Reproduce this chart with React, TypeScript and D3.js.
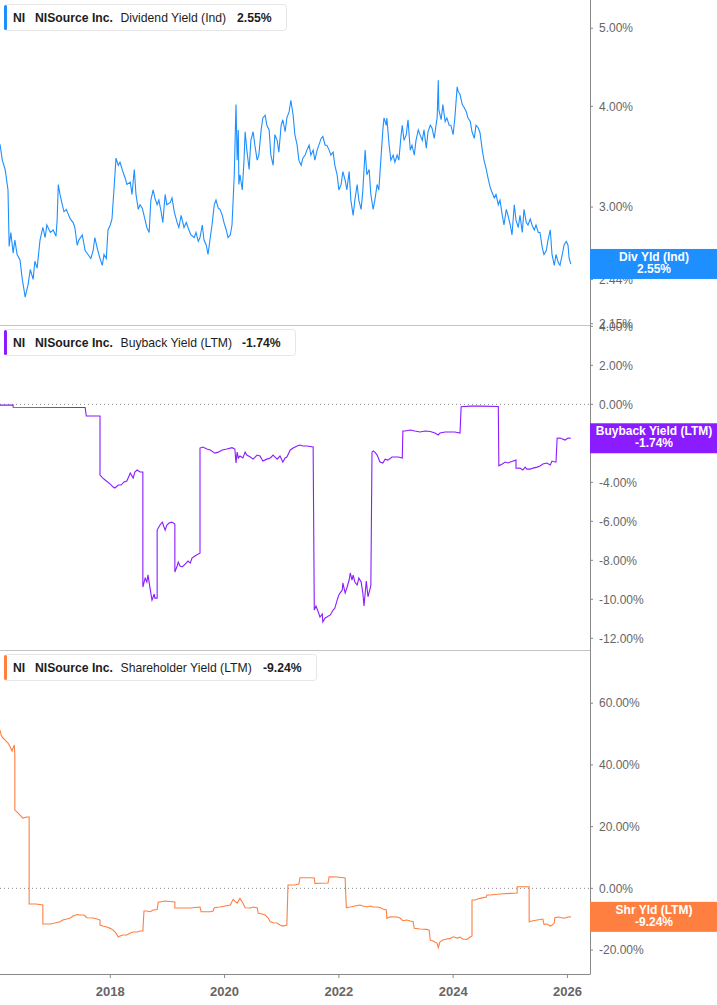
import * as d3 from "d3";

// NiSource (NI) yields. Dates are decimal years.
const divDates = [
  2016.07, 2016.11, 2016.16, 2016.21, 2016.23, 2016.26, 2016.3, 2016.33, 2016.37, 2016.42,
  2016.46, 2016.49, 2016.51, 2016.56, 2016.6, 2016.65, 2016.68, 2016.72, 2016.77, 2016.82,
  2016.86, 2016.89, 2016.95, 2017.0, 2017.05, 2017.07, 2017.09, 2017.12, 2017.16, 2017.19,
  2017.23, 2017.3, 2017.35, 2017.38, 2017.42, 2017.45, 2017.51, 2017.56, 2017.61, 2017.66,
  2017.7, 2017.73, 2017.77, 2017.82, 2017.86, 2017.89, 2017.93, 2017.96, 2018.0, 2018.03,
  2018.07, 2018.1, 2018.14, 2018.17, 2018.22, 2018.26, 2018.29, 2018.35, 2018.38, 2018.42,
  2018.45, 2018.49, 2018.52, 2018.56, 2018.61, 2018.64, 2018.68, 2018.71, 2018.75, 2018.78,
  2018.82, 2018.85, 2018.89, 2018.92, 2018.96, 2018.99, 2019.05, 2019.08, 2019.12, 2019.17,
  2019.2, 2019.24, 2019.29, 2019.33, 2019.36, 2019.41, 2019.47, 2019.5, 2019.54, 2019.57,
  2019.61, 2019.64, 2019.68, 2019.71, 2019.75, 2019.78, 2019.82, 2019.85, 2019.89, 2019.92,
  2019.96, 2019.99, 2020.03, 2020.06, 2020.1, 2020.13, 2020.15, 2020.17, 2020.18, 2020.2,
  2020.22, 2020.24, 2020.25, 2020.27, 2020.31, 2020.34, 2020.36, 2020.39, 2020.43, 2020.46,
  2020.5, 2020.53, 2020.57, 2020.6, 2020.64, 2020.67, 2020.71, 2020.74, 2020.78, 2020.81,
  2020.85, 2020.88, 2020.92, 2020.95, 2020.99, 2021.02, 2021.06, 2021.09, 2021.13, 2021.16,
  2021.2, 2021.23, 2021.27, 2021.3, 2021.34, 2021.37, 2021.41, 2021.44, 2021.48, 2021.51,
  2021.55, 2021.58, 2021.62, 2021.65, 2021.69, 2021.72, 2021.76, 2021.79, 2021.83, 2021.86,
  2021.9, 2021.93, 2021.97, 2022.0, 2022.04, 2022.07, 2022.11, 2022.14, 2022.18, 2022.21,
  2022.25, 2022.28, 2022.32, 2022.35, 2022.39, 2022.42, 2022.46, 2022.49, 2022.53, 2022.56,
  2022.6, 2022.63, 2022.67, 2022.7, 2022.74, 2022.77, 2022.79, 2022.83, 2022.84, 2022.88,
  2022.91, 2022.95, 2022.98, 2023.02, 2023.05, 2023.09, 2023.11, 2023.14, 2023.18, 2023.21,
  2023.25, 2023.28, 2023.32, 2023.35, 2023.39, 2023.42, 2023.46, 2023.49, 2023.53, 2023.56,
  2023.6, 2023.63, 2023.67, 2023.7, 2023.72, 2023.74, 2023.75, 2023.79, 2023.82, 2023.86,
  2023.89, 2023.93, 2023.96, 2024.0, 2024.03, 2024.07, 2024.09, 2024.12, 2024.16, 2024.19,
  2024.23, 2024.26, 2024.3, 2024.33, 2024.37, 2024.4, 2024.44, 2024.47, 2024.51, 2024.54,
  2024.58, 2024.61, 2024.65, 2024.68, 2024.72, 2024.75, 2024.79, 2024.82, 2024.86, 2024.89,
  2024.93, 2024.96, 2025.0, 2025.03, 2025.07, 2025.1, 2025.14, 2025.17, 2025.21, 2025.24,
  2025.28, 2025.31, 2025.35, 2025.38, 2025.42, 2025.45, 2025.49, 2025.52, 2025.56, 2025.59,
  2025.63, 2025.66, 2025.7, 2025.73, 2025.77, 2025.8, 2025.84, 2025.87, 2025.91, 2025.94,
  2025.98, 2026.01, 2026.03, 2026.06,
];

const divValues = [
  3.59, 3.43, 3.34, 3.15, 2.68, 2.79, 2.63, 2.73, 2.62, 2.58,
  2.44, 2.37, 2.32, 2.4, 2.51, 2.44, 2.57, 2.52, 2.73, 2.83,
  2.75, 2.85, 2.79, 2.81, 2.76, 2.89, 3.2, 3.11, 3.02, 2.96,
  2.98, 2.9, 2.87, 2.83, 2.69, 2.73, 2.77, 2.65, 2.62, 2.59,
  2.65, 2.75, 2.67, 2.59, 2.54, 2.62, 2.59, 2.81, 2.85, 2.9,
  3.2, 3.45, 3.38, 3.41, 3.32, 3.26, 3.2, 3.22, 3.11, 3.34,
  3.11, 2.98, 3.02, 2.99, 2.89, 2.83, 2.79, 3.06, 3.15, 3.08,
  3.02, 3.06, 2.96, 2.87, 3.11, 3.02, 3.04, 3.08, 2.96, 2.87,
  2.83, 2.93, 2.83, 2.87, 2.83, 2.77, 2.75, 2.79, 2.72, 2.75,
  2.85, 2.73, 2.69, 2.62, 2.75, 2.85, 3.02, 3.06, 2.99, 2.98,
  2.93, 2.87, 2.81, 2.75, 2.77, 2.85, 3.06, 3.29, 3.53, 4.02,
  3.43, 3.74, 3.2, 3.29, 3.15, 3.43, 3.72, 3.53, 3.34, 3.63,
  3.72, 3.58, 3.43, 3.48, 3.74, 3.87, 3.9, 3.79, 3.74, 3.48,
  3.38, 3.69, 3.63, 3.51, 3.79, 3.85, 3.72, 3.87, 3.94, 4.07,
  3.9, 3.69, 3.58, 3.43, 3.38, 3.45, 3.48, 3.53, 3.58, 3.48,
  3.53, 3.43, 3.53, 3.58, 3.65, 3.67, 3.58, 3.58, 3.53, 3.48,
  3.51, 3.38, 3.29, 3.15, 3.2, 3.32, 3.24, 3.15, 3.32, 3.06,
  2.93, 3.06, 3.2, 3.06, 2.98, 3.15, 3.53, 3.29, 3.34, 3.11,
  2.98, 3.06, 3.2, 3.15, 3.48, 3.74, 3.87, 3.79, 3.87, 3.58,
  3.43, 3.48, 3.41, 3.48, 3.43, 3.69, 3.79, 3.63, 3.69, 3.85,
  3.53, 3.58, 3.48, 3.63, 3.74, 3.69, 3.63, 3.74, 3.55, 3.72,
  3.79, 3.76, 3.65, 3.79, 3.87, 4.31, 3.96, 3.85, 4.02, 3.83,
  3.87, 3.79, 3.79, 3.69, 3.87, 4.23, 4.17, 4.14, 4.02, 3.99,
  3.94, 3.87, 3.83, 3.72, 3.65, 3.79, 3.76, 3.71, 3.53, 3.43,
  3.34, 3.26, 3.17, 3.13, 3.08, 3.11, 3.02, 3.06, 2.93, 2.85,
  2.98, 2.93, 2.85, 2.77, 3.02, 2.89, 2.83, 2.93, 2.79, 2.98,
  2.87, 2.85, 2.9, 2.85, 2.81, 2.85, 2.79, 2.79, 2.67, 2.62,
  2.65, 2.73, 2.81, 2.62, 2.54, 2.62, 2.56, 2.54, 2.62, 2.69,
  2.72, 2.69, 2.59, 2.55,
];

// [decimal year, %]
const buybackSeries: [number, number][] = [
  [2016.07, -0.04], [2016.3, -0.04], [2016.3, -0.15], [2017.56, -0.16], [2017.58, -0.6],
  [2017.82, -0.6], [2017.82, -3.63], [2017.87, -3.78], [2017.93, -3.93], [2018.0, -4.09],
  [2018.05, -4.24], [2018.08, -4.29], [2018.14, -4.14], [2018.19, -4.14], [2018.24, -3.98],
  [2018.29, -3.93], [2018.35, -3.52], [2018.4, -3.78], [2018.43, -3.47], [2018.47, -3.37],
  [2018.52, -3.47], [2018.57, -3.47], [2018.57, -9.37], [2018.61, -8.91], [2018.64, -9.11],
  [2018.66, -8.75], [2018.7, -9.52], [2018.73, -10.04], [2018.77, -9.73], [2018.78, -9.94],
  [2018.82, -9.94], [2018.82, -6.45], [2018.84, -6.34], [2018.87, -6.19], [2018.91, -6.04],
  [2018.94, -6.29], [2018.96, -6.45], [2018.99, -6.19], [2019.03, -6.09], [2019.08, -6.04],
  [2019.13, -6.14], [2019.13, -8.6], [2019.17, -8.29], [2019.19, -8.09], [2019.22, -8.29],
  [2019.26, -8.34], [2019.31, -8.19], [2019.36, -8.04], [2019.4, -8.14], [2019.43, -7.88],
  [2019.48, -7.78], [2019.54, -7.68], [2019.57, -7.63], [2019.57, -2.24], [2019.62, -2.19],
  [2019.69, -2.29], [2019.75, -2.34], [2019.83, -2.5], [2019.89, -2.45], [2019.96, -2.34],
  [2020.04, -2.29], [2020.13, -2.22], [2020.18, -2.29], [2020.2, -3.01], [2020.22, -2.45],
  [2020.24, -2.75], [2020.27, -2.65], [2020.32, -2.75], [2020.36, -2.45], [2020.39, -2.6],
  [2020.45, -2.7], [2020.5, -2.81], [2020.57, -2.6], [2020.62, -2.65], [2020.67, -2.91],
  [2020.74, -2.81], [2020.8, -2.75], [2020.85, -2.6], [2020.88, -2.7], [2020.92, -2.81],
  [2020.97, -2.65], [2021.02, -2.96], [2021.06, -2.75], [2021.09, -2.7], [2021.15, -2.34],
  [2021.2, -2.24], [2021.27, -2.14], [2021.32, -2.09], [2021.37, -2.14], [2021.44, -2.14],
  [2021.55, -2.19], [2021.57, -10.55], [2021.6, -10.34], [2021.64, -10.65], [2021.67, -10.91],
  [2021.71, -10.75], [2021.72, -11.16], [2021.76, -10.96], [2021.79, -10.91], [2021.85, -10.8],
  [2021.88, -10.65], [2021.9, -10.55], [2021.93, -10.45], [2021.97, -10.04], [2022.0, -9.78],
  [2022.02, -9.68], [2022.06, -9.52], [2022.07, -9.16], [2022.11, -9.68], [2022.14, -9.42],
  [2022.18, -9.01], [2022.2, -8.65], [2022.23, -9.01], [2022.25, -8.76], [2022.28, -9.11],
  [2022.32, -9.27], [2022.35, -8.91], [2022.39, -9.11], [2022.42, -9.68], [2022.44, -10.34],
  [2022.48, -9.06], [2022.51, -9.87], [2022.55, -9.42], [2022.56, -9.27], [2022.58, -2.45],
  [2022.6, -2.39], [2022.63, -2.45], [2022.67, -2.6], [2022.72, -2.96], [2022.77, -3.01],
  [2022.81, -2.81], [2022.86, -2.86], [2022.93, -2.7], [2022.98, -2.7], [2023.04, -2.7],
  [2023.11, -2.75], [2023.12, -1.37], [2023.16, -1.37], [2023.25, -1.32], [2023.33, -1.37],
  [2023.42, -1.42], [2023.51, -1.37], [2023.6, -1.39], [2023.68, -1.47], [2023.74, -1.57],
  [2023.77, -1.47], [2023.86, -1.42], [2023.95, -1.42], [2024.03, -1.42], [2024.12, -1.47],
  [2024.14, -0.12], [2024.3, -0.09], [2024.47, -0.09], [2024.79, -0.11], [2024.8, -3.15],
  [2024.86, -3.06], [2024.91, -2.96], [2024.96, -3.01], [2025.0, -2.96], [2025.05, -2.91],
  [2025.1, -2.86], [2025.1, -3.28], [2025.17, -3.27], [2025.22, -3.37], [2025.26, -3.22],
  [2025.29, -3.32], [2025.35, -3.32], [2025.4, -3.27], [2025.47, -3.22], [2025.52, -3.16],
  [2025.57, -3.06], [2025.64, -3.01], [2025.7, -3.11], [2025.73, -2.91], [2025.78, -2.96],
  [2025.8, -2.96], [2025.82, -1.74], [2025.87, -1.73], [2025.96, -1.83], [2026.01, -1.73],
  [2026.06, -1.74],
];

const shareholderSeries: [number, number][] = [
  [2016.07, 51.31], [2016.09, 49.69], [2016.12, 48.72], [2016.16, 48.07], [2016.21, 47.1],
  [2016.25, 45.8], [2016.28, 44.51], [2016.3, 45.48], [2016.32, 46.45], [2016.33, 43.21],
  [2016.33, 25.38], [2016.37, 24.73], [2016.42, 23.76], [2016.47, 22.79], [2016.54, 23.11],
  [2016.58, 23.11], [2016.58, -5.09], [2016.7, -5.09], [2016.82, -5.41], [2016.82, -11.57],
  [2016.95, -11.57], [2017.03, -11.25], [2017.12, -10.83], [2017.17, -10.28], [2017.24, -9.95],
  [2017.3, -9.63], [2017.35, -8.98], [2017.42, -8.49], [2017.47, -8.65], [2017.54, -8.65],
  [2017.59, -9.53], [2017.7, -9.63], [2017.77, -9.95], [2017.82, -10.28], [2017.82, -11.9],
  [2017.87, -12.22], [2017.94, -12.54], [2018.0, -12.97], [2018.05, -13.52], [2018.1, -14.49],
  [2018.12, -15.14], [2018.14, -15.79], [2018.17, -15.46], [2018.22, -15.14], [2018.29, -15.14],
  [2018.35, -14.49], [2018.4, -14.17], [2018.47, -14.17], [2018.52, -13.84], [2018.57, -13.84],
  [2018.59, -7.36], [2018.64, -7.36], [2018.7, -7.59], [2018.75, -7.03], [2018.82, -6.87],
  [2018.84, -4.44], [2018.87, -4.44], [2018.96, -4.12], [2019.05, -4.28], [2019.13, -4.44],
  [2019.13, -6.39], [2019.22, -6.39], [2019.31, -6.39], [2019.4, -6.39], [2019.48, -6.22],
  [2019.57, -6.06], [2019.59, -7.59], [2019.66, -7.59], [2019.75, -7.59], [2019.8, -7.36],
  [2019.82, -6.29], [2019.92, -6.06], [2020.01, -5.74], [2020.1, -5.41], [2020.15, -3.57],
  [2020.18, -4.12], [2020.22, -4.77], [2020.27, -3.24], [2020.32, -4.77], [2020.36, -6.29],
  [2020.45, -6.39], [2020.5, -6.06], [2020.57, -6.29], [2020.59, -8.1], [2020.66, -8.33],
  [2020.71, -8.65], [2020.76, -9.53], [2020.8, -10.83], [2020.85, -11.15], [2020.92, -11.25],
  [2020.97, -11.9], [2021.02, -12.22], [2021.09, -11.9], [2021.11, 1.07], [2021.23, 1.07],
  [2021.3, 1.39], [2021.32, 3.44], [2021.5, 3.44], [2021.57, 3.34], [2021.58, 1.62],
  [2021.81, 1.72], [2021.83, 3.76], [2021.97, 3.66], [2022.11, 3.34], [2022.13, -6.22],
  [2022.2, -6.06], [2022.28, -5.74], [2022.37, -5.41], [2022.42, -5.74], [2022.49, -5.96],
  [2022.55, -5.74], [2022.6, -6.06], [2022.67, -6.06], [2022.72, -6.22], [2022.77, -6.71],
  [2022.83, -7.03], [2022.84, -9.72], [2022.9, -9.21], [2023.02, -9.3], [2023.07, -9.63],
  [2023.12, -10.5], [2023.19, -10.28], [2023.25, -10.6], [2023.3, -10.83], [2023.32, -12.97],
  [2023.42, -13.19], [2023.54, -13.29], [2023.58, -13.52], [2023.6, -16.76], [2023.65, -17.08],
  [2023.72, -17.83], [2023.74, -19.25], [2023.77, -17.31], [2023.82, -16.76], [2023.89, -16.43],
  [2023.95, -16.21], [2024.0, -15.69], [2024.07, -16.11], [2024.12, -15.79], [2024.17, -16.43],
  [2024.24, -16.53], [2024.3, -15.79], [2024.33, -15.46], [2024.33, -3.79], [2024.38, -3.79],
  [2024.47, -3.24], [2024.58, -2.82], [2024.59, -2.17], [2024.65, -2.17], [2024.82, -1.85],
  [2025.0, -1.62], [2025.12, -1.52], [2025.12, 0.52], [2025.33, 0.52], [2025.33, -10.83],
  [2025.38, -10.6], [2025.47, -10.28], [2025.57, -9.95], [2025.59, -11.67], [2025.64, -11.57],
  [2025.7, -12.22], [2025.73, -11.9], [2025.77, -11.25], [2025.78, -9.53], [2025.84, -9.3],
  [2025.91, -9.63], [2025.96, -9.63], [2026.01, -9.3], [2026.06, -9.24],
];

const divTicks = [5, 4, 3, 2.44, 2.15];
const buybackTicks = [4, 2, 0, -2, -4, -6, -8, -10, -12];
const shareholderTicks = [60, 40, 20, 0, -20];
const yearTicks = [2018, 2020, 2022, 2024, 2026];

const W = 717;
const H = 1005;
const plotRight = 590;
const axisY = 974;
const font = "'Liberation Sans', Arial, sans-serif";

const x = d3.scaleLinear().domain([2016.07, 2026.395]).range([0, plotRight]);
const pct = (v: number) => `${v.toFixed(2)}%`;

interface Panel {
  top: number;
  bottom: number;
  y: (v: number) => number;
  data: [number, number][];
  color: string;
  ticks: number[];
  name: string;
  short: string;
  legendW: number;
  valueX: number;
  zeroLine: boolean;
}

const panels: Panel[] = [
  {
    top: 0,
    bottom: 325,
    y: d3.scaleLog().domain([2.142, 5.42]).range([325, 0]),
    data: d3.zip(divDates, divValues) as [number, number][],
    color: "#1e8fff",
    ticks: divTicks,
    name: "Dividend Yield (Ind)",
    short: "Div Yld (Ind)",
    legendW: 282,
    valueX: 237,
    zeroLine: false,
  },
  {
    top: 325,
    bottom: 650,
    y: d3.scaleLinear().domain([-12.6, 4.07]).range([650, 325]),
    data: buybackSeries,
    color: "#8a1cff",
    ticks: buybackTicks,
    name: "Buyback Yield (LTM)",
    short: "Buyback Yield (LTM)",
    legendW: 291,
    valueX: 242,
    zeroLine: true,
  },
  {
    top: 650,
    bottom: axisY,
    y: d3.scaleLinear().domain([-27.76, 77.25]).range([axisY, 650]),
    data: shareholderSeries,
    color: "#ff7f40",
    ticks: shareholderTicks,
    name: "Shareholder Yield (LTM)",
    short: "Shr Yld (LTM)",
    legendW: 312,
    valueX: 263,
    zeroLine: true,
  },
];

function PanelView({ p }: { p: Panel }) {
  const line = d3
    .line<[number, number]>()
    .x((d) => x(d[0]))
    .y((d) => p.y(d[1]));
  const last = p.data[p.data.length - 1][1];
  const ly = p.y(last);

  return (
    <g>
      {p.zeroLine && (
        <line
          x1={0}
          x2={plotRight}
          y1={p.y(0)}
          y2={p.y(0)}
          stroke="#8a8a8a"
          strokeDasharray="1,3"
        />
      )}
      <path d={line(p.data) ?? ""} fill="none" stroke={p.color} strokeWidth={1.1} />

      {/* legend */}
      <g transform={`translate(0,${p.top})`}>
        <rect x={4.5} y={4.5} width={p.legendW} height={26} rx={3} fill="white" stroke="#e6e6e6" />
        <rect x={4} y={5} width={3} height={25} rx={1.5} fill={p.color} />
        <text y={22} fontSize={12.2} fill="#1d1d1d" fontFamily={font}>
          <tspan x={13} fontWeight="bold">NI</tspan>
          <tspan x={35} fontWeight="bold">NISource Inc.</tspan>
          <tspan x={120.5}>{p.name}</tspan>
          <tspan x={p.valueX} fontWeight="bold">{pct(last)}</tspan>
        </text>
      </g>

      {/* right axis ticks */}
      {p.ticks.map((t) => (
        <g key={t} transform={`translate(${plotRight},${p.y(t)})`}>
          <line x1={0} x2={3} stroke="#888" />
          <text x={9} dy="0.35em" fontSize={12} fill="#666" fontFamily={font}>
            {pct(t)}
          </text>
        </g>
      ))}

      {/* last value tag */}
      <rect x={plotRight} y={ly - 15} width={W - plotRight} height={30} fill={p.color} />
      <text
        x={654}
        y={ly - 3}
        textAnchor="middle"
        fontSize={12}
        fontWeight="bold"
        fill="white"
        fontFamily={font}
      >
        {p.short}
      </text>
      <text
        x={654}
        y={ly + 9}
        textAnchor="middle"
        fontSize={12}
        fontWeight="bold"
        fill="white"
        fontFamily={font}
      >
        {pct(last)}
      </text>
    </g>
  );
}

export default function App() {
  return (
    <svg
      width={W}
      height={H}
      style={{ position: "absolute", left: 0, top: 0, background: "white" }}
    >
      <rect width={W} height={H} fill="white" />
      <line x1={0} x2={plotRight} y1={325.5} y2={325.5} stroke="#c4c4c4" />
      <line x1={0} x2={plotRight} y1={650.5} y2={650.5} stroke="#c4c4c4" />
      <line x1={0} x2={plotRight} y1={axisY + 0.5} y2={axisY + 0.5} stroke="#8a8a8a" />
      <line x1={plotRight + 0.5} x2={plotRight + 0.5} y1={0} y2={axisY + 0.5} stroke="#8a8a8a" />

      {panels.map((p) => (
        <PanelView key={p.name} p={p} />
      ))}

      {yearTicks.map((yr) => (
        <g key={yr} transform={`translate(${x(yr)},${axisY})`}>
          <line y1={0} y2={4} stroke="#8a8a8a" />
          <text
            y={22}
            textAnchor="middle"
            fontSize={13}
            fontWeight="bold"
            fill="#666"
            fontFamily={font}
          >
            {yr}
          </text>
        </g>
      ))}
    </svg>
  );
}
